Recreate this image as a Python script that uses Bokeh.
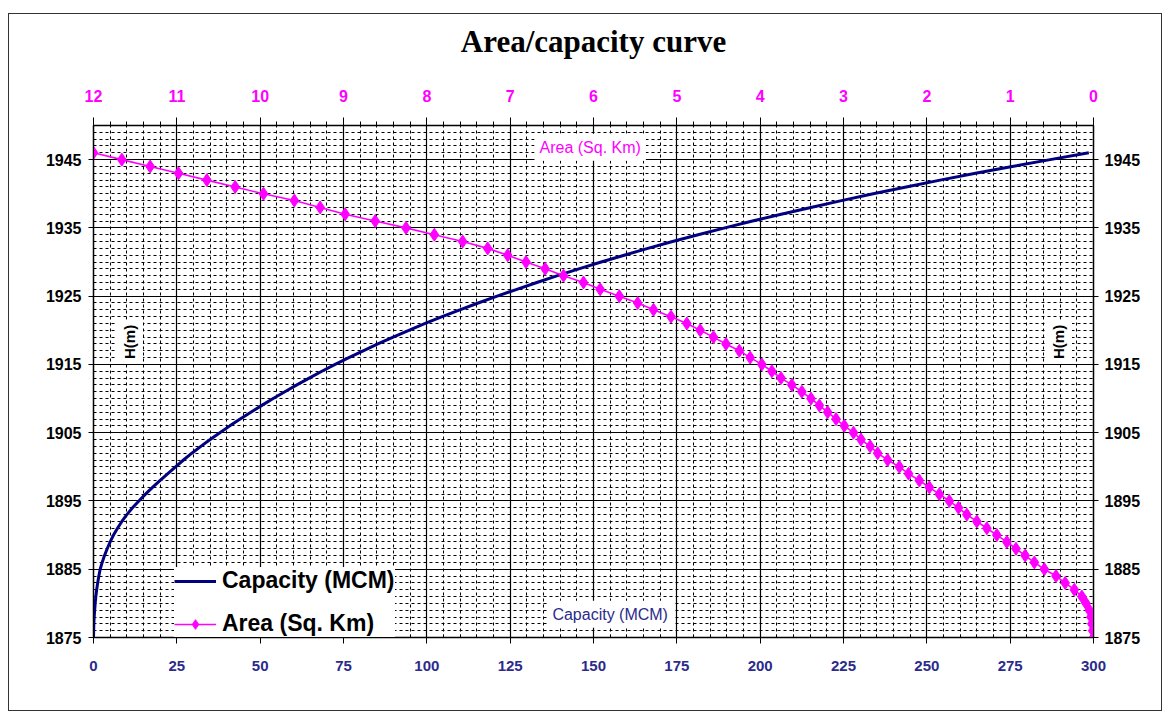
from bokeh.plotting import figure
from bokeh.models import (Range1d, LinearAxis, SingleIntervalTicker, FixedTicker,
                          Label, Legend, LegendItem, Title)
from bokeh.embed import file_html
from bokeh.resources import INLINE

# ---------------- data ----------------
elevation_m = list(range(1875, 1947))

area_sqkm = [0.00, 0.01, 0.02, 0.03, 0.05, 0.09, 0.14, 0.23, 0.34, 0.45,
             0.59, 0.71, 0.82, 0.93, 1.04, 1.16, 1.28, 1.40, 1.52, 1.62,
             1.73, 1.85, 1.97, 2.09, 2.22, 2.33, 2.47, 2.59, 2.68, 2.79,
             2.88, 2.99, 3.09, 3.19, 3.29, 3.39, 3.50, 3.62, 3.75, 3.86,
             3.98, 4.12, 4.25, 4.41, 4.56, 4.72, 4.88, 5.07, 5.28, 5.47,
             5.69, 5.92, 6.12, 6.36, 6.58, 6.81, 7.03, 7.27, 7.57, 7.91,
             8.25, 8.62, 8.98, 9.28, 9.59, 9.96, 10.30, 10.64, 10.98, 11.32,
             11.66, 12.00]

capacity_mcm = [0.0, 0.05, 0.1, 0.2, 0.35, 0.5, 0.7, 0.95, 1.25, 1.6,
                2.0, 2.6, 3.3, 4.1, 5.0, 6.0, 7.2, 8.5, 10.0, 11.7,
                13.6, 15.6, 17.7, 20.0, 22.3, 24.6, 27.0, 29.5, 32.2, 35.0,
                37.9, 40.9, 44.0, 47.2, 50.5, 53.9, 57.4, 61.0, 64.7, 68.5,
                72.5, 76.6, 80.9, 85.3, 89.9, 94.6, 99.5, 104.6, 109.9, 115.4,
                121.1, 127.0, 133.0, 139.2, 145.6, 152.3, 159.2, 166.3, 173.7, 181.4,
                189.4, 197.7, 206.3, 215.2, 224.4, 233.9, 243.8, 254.0, 264.6, 275.6,
                287.0, 298.6]

h_ticks = [1875, 1885, 1895, 1905, 1915, 1925, 1935, 1945]
h_minor = list(range(1875, 1951))

TITLE = "Area/capacity curve"
NAVY = "#000080"
MAGENTA = "#FF00FF"
FONT = "Liberation Sans"

p = figure(width=1154, height=698, output_backend="svg", toolbar_location=None,
           x_range=Range1d(0, 300), y_range=Range1d(1875, 1950),
           min_border_left=84, min_border_right=70, min_border_top=111,
           min_border_bottom=75)
p.margin = (13, 0, 0, 8)
p.styles = {"border": "1px solid #333333"}
p.outline_line_color = "black"
p.outline_line_width = 1.5
p.background_fill_color = "white"
p.border_fill_color = "white"

# bottom (capacity) axis
xb = p.xaxis[0]
xb.ticker = SingleIntervalTicker(interval=25, num_minor_ticks=5)
xb.major_label_text_color = "#2B2B8C"
xb.major_label_text_font = FONT
xb.major_label_text_font_style = "bold"
xb.major_label_text_font_size = "15px"
xb.major_label_standoff = 17
xb.major_tick_out = 6
xb.major_tick_in = 0
xb.minor_tick_out = 0
xb.minor_tick_in = 3
xb.axis_line_color = "black"

def style_h_axis(ax, standoff):
    ax.major_label_text_color = "black"
    ax.major_label_text_font = FONT
    ax.major_label_text_font_style = "bold"
    ax.major_label_text_font_size = "16px"
    ax.major_label_standoff = standoff
    ax.major_tick_out = 5
    ax.major_tick_in = 0
    ax.minor_tick_out = 0
    ax.minor_tick_in = 0
    ax.axis_line_color = "black"

# left (H) axis
yl = p.yaxis[0]
yl.ticker = FixedTicker(ticks=h_ticks, minor_ticks=h_minor)
style_h_axis(yl, 7)

# grids
for g in (p.xgrid[0], p.ygrid[0]):
    g.grid_line_color = "black"
    g.grid_line_width = 1.2
    g.minor_grid_line_color = "black"
    g.minor_grid_line_width = 1
    g.minor_grid_line_dash = "3 3"

# right axis
yr = LinearAxis(ticker=FixedTicker(ticks=h_ticks, minor_ticks=h_minor))
style_h_axis(yr, 6)
p.add_layout(yr, "right")

# top (area) axis
p.extra_x_ranges = {"area": Range1d(12, 0)}
xt = LinearAxis(x_range_name="area",
                ticker=SingleIntervalTicker(interval=1, num_minor_ticks=5))
xt.major_label_text_color = MAGENTA
xt.major_label_text_font = FONT
xt.major_label_text_font_style = "bold"
xt.major_label_text_font_size = "16px"
xt.major_label_standoff = 16
xt.major_tick_out = 8
xt.major_tick_in = 0
xt.minor_tick_out = 4
xt.minor_tick_in = 0
xt.axis_line_color = "black"
p.add_layout(xt, "above")

# spacer between the top axis and the chart title
spacer = Title(text=" ", text_font_size="1px", standoff=25)
p.add_layout(spacer, "above")

# title
p.title.text = TITLE
p.title.align = "center"
p.title.text_font = "Liberation Serif"
p.title.text_font_size = "31px"
p.title.text_font_style = "bold"
p.title.text_color = "black"
p.title.standoff = 0

# series
r_cap = p.line(capacity_mcm, elevation_m, line_color=NAVY, line_width=3)
r_area_line = p.line(area_sqkm, elevation_m, x_range_name="area",
                     line_color=MAGENTA, line_width=1.6)
r_area_pts = p.scatter(area_sqkm, elevation_m, x_range_name="area",
                       marker="diamond", size=13, fill_color=MAGENTA,
                       line_color=MAGENTA)

# in-plot labels
def boxed(x, y, text, color, size, angle=0.0, bold=False):
    lab = Label(x=x, y=y, text=text, text_color=color, text_font=FONT,
                text_font_size=size, text_align="center",
                text_baseline="middle", angle=angle,
                text_font_style="bold" if bold else "normal",
                background_fill_color="white", background_fill_alpha=1.0)
    lab.padding = 5
    p.add_layout(lab)

boxed(149, 1946.8, "Area (Sq. Km)", MAGENTA, "16px")
boxed(155, 1878.4, "Capacity (MCM)", "#2B2B8C", "16px")
boxed(10.8, 1918.3, "H(m)", "black", "15px", angle=1.5708, bold=True)
boxed(289.5, 1918.3, "H(m)", "black", "15px", angle=1.5708, bold=True)

legend = Legend(items=[
    LegendItem(label="Capacity (MCM)", renderers=[r_cap]),
    LegendItem(label="Area (Sq. Km)", renderers=[r_area_line, r_area_pts]),
], location=(81, 0))
legend.label_text_font = FONT
legend.label_text_font_size = "23px"
legend.label_text_font_style = "bold"
legend.label_text_color = "black"
legend.border_line_color = None
legend.background_fill_color = "white"
legend.background_fill_alpha = 1.0
legend.glyph_width = 42
legend.glyph_height = 24
legend.label_height = 24
legend.spacing = 16
legend.padding = 12
legend.margin = 0
legend.label_standoff = 6
p.add_layout(legend, "center")

open("out.html", "w").write(file_html(p, INLINE))
